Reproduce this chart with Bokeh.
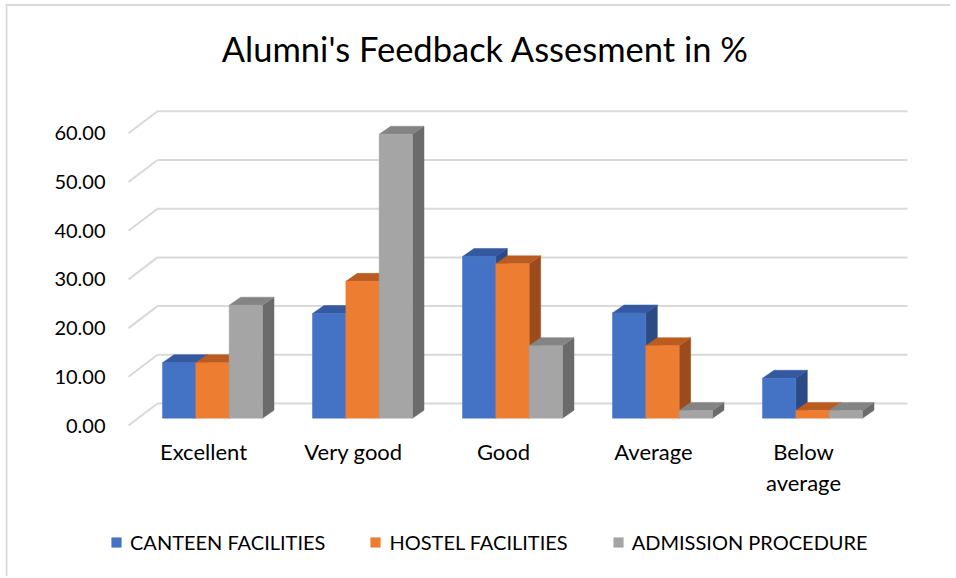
import textwrap
from bokeh.plotting import figure
from bokeh.models import Range1d, Legend, LegendItem, ColumnDataSource
from bokeh.core.properties import value
from bokeh.embed import file_html
from bokeh.resources import INLINE

# ---------------- data ----------------
categories = ["Excellent", "Very good", "Good", "Average", "Below average"]
series_names = ["CANTEEN FACILITIES", "HOSTEL FACILITIES", "ADMISSION PROCEDURE"]
canteen = [11.4, 21.5, 33.2, 21.6, 8.2]
hostel = [11.4, 28.1, 31.7, 14.9, 1.6]
admission = [23.2, 58.3, 14.9, 1.6, 1.6]
y_ticks = [0, 10, 20, 30, 40, 50, 60]
title_text = "Alumni's Feedback Assesment in %"

series_values = [canteen, hostel, admission]
front_colors = ["#4472C4", "#ED7D31", "#A5A5A5"]
top_colors = ["#3559A0", "#BA5C22", "#848484"]
side_colors = ["#2C4B86", "#9C4C1C", "#6B6B6B"]

FONT = "Lato"

# ---------------- layout (page pixels) ----------------
FIG_W, FIG_H = 950, 576
FL, FT = 5, 3                 # frame left / top inside the figure
PX_X = 150.0                  # px per category unit
PX_Y = 4.87                   # px per value unit
ORIGIN_X = 128.0 + 75.0       # page x of category 0 (front plane)
ORIGIN_Y = 425.0              # page y of value 0 (front plane)


def px2x(px):
    return (px - ORIGIN_X) / PX_X


def px2y(py):
    return (ORIGIN_Y - py) / PX_Y


x0, x1 = px2x(FL), px2x(FIG_W)
y1, y0 = px2y(FT), px2y(FIG_H)

# wall depth offset (front plane -> back wall)
WX, WY = 29.0 / PX_X, 22.0 / PX_Y
# bar front-face offset and bar depth
BX, BY = 9.0 / PX_X, 7.3 / PX_Y
DX, DY = 11.5 / PX_X, 8.0 / PX_Y
BAR_W = 1.0 / 4.5   # three bars fill 2/3 of a category

p = figure(width=FIG_W, height=FIG_H, output_backend="svg", toolbar_location=None,
           x_range=Range1d(x0, x1), y_range=Range1d(y0, y1),
           x_axis_location=None, y_axis_location=None,
           min_border_left=FL, min_border_right=0,
           min_border_top=FT, min_border_bottom=0,
           outline_line_color=None, background_fill_color="white",
           border_fill_color="white")
p.xgrid.visible = False
p.ygrid.visible = False

# ---------------- chart border (left and top edges of the chart box) ----------------
p.segment([px2x(6), px2x(5)], [px2y(3), px2y(4.5)],
          [px2x(6), px2x(FIG_W)], [px2y(FIG_H), px2y(4.5)],
          line_color="#D9D9D9", line_width=2)

# ---------------- title ----------------
p.text(x=[px2x(485)], y=[px2y(47.5)], text=[title_text], text_font=value(FONT),
       text_font_size="34.5px", text_color="#000000", text_align="center",
       text_baseline="alphabetic")

# ---------------- walls / gridlines ----------------
left_front = -0.5
right_front = 4.5
gx0, gx1, gy0, gy1 = [], [], [], []
for t in y_ticks:
    # back wall line
    gx0.append(left_front + WX); gy0.append(t + WY)
    gx1.append(right_front + WX); gy1.append(t + WY)
    # side wall diagonal
    gx0.append(left_front); gy0.append(t)
    gx1.append(left_front + WX); gy1.append(t + WY)
p.segment(gx0, gy0, gx1, gy1, line_color="#D9D9D9", line_width=2)

# ---------------- y tick labels ----------------
tick_src = ColumnDataSource(dict(
    x=[px2x(105)] * len(y_ticks), y=y_ticks, text=["%.2f" % t for t in y_ticks]))
p.text(x="x", y="y", text="text", source=tick_src, text_font=value(FONT),
       text_font_size="20px", text_color="#000000", text_align="right",
       text_baseline="middle")

# ---------------- 3D bars ----------------
legend_items = []
for s, vals in enumerate(series_values):
    lefts, rights, tops, bottoms = [], [], [], []
    top_xs, top_ys, side_xs, side_ys = [], [], [], []
    for i, v in enumerate(vals):
        l = i - 1.0 / 3.0 + s * BAR_W + BX
        r = l + BAR_W
        b = BY
        t = v + BY
        lefts.append(l); rights.append(r); bottoms.append(b); tops.append(t)
        top_xs.append([l, r, r + DX, l + DX])
        top_ys.append([t, t, t + DY, t + DY])
        side_xs.append([r, r + DX, r + DX, r])
        side_ys.append([b, b + DY, t + DY, t])
    p.patches(side_xs, side_ys, fill_color=side_colors[s], line_color=side_colors[s], line_width=0.5)
    p.patches(top_xs, top_ys, fill_color=top_colors[s], line_color=top_colors[s], line_width=0.5)
    src = ColumnDataSource(dict(left=lefts, right=rights, top=tops, bottom=bottoms))
    r_front = p.quad(left="left", right="right", top="top", bottom="bottom", source=src,
                     fill_color=front_colors[s], line_color=front_colors[s], line_width=0.5)
    legend_items.append(LegendItem(label=series_names[s], renderers=[r_front]))

# ---------------- category labels ----------------
cat_src = ColumnDataSource(dict(
    x=list(range(len(categories))),
    y=[px2y(ORIGIN_Y + 12.0)] * len(categories),
    text=[textwrap.fill(c, 10) for c in categories]))
p.text(x="x", y="y", text="text", source=cat_src, text_font=value(FONT),
       text_font_size="22px", text_color="#000000", text_align="center",
       text_baseline="top", text_line_height=1.15)

# ---------------- legend ----------------
legend = Legend(items=legend_items, orientation="horizontal",
                location=(110 - FL, FIG_H - 554),
                glyph_width=12, glyph_height=12, label_standoff=8, spacing=44,
                padding=0, margin=0, border_line_color=None, background_fill_alpha=0,
                label_text_font=FONT, label_text_font_size="20px", label_text_color="#000000")
p.add_layout(legend, "center")

open("out.html", "w").write(file_html(p, INLINE))
